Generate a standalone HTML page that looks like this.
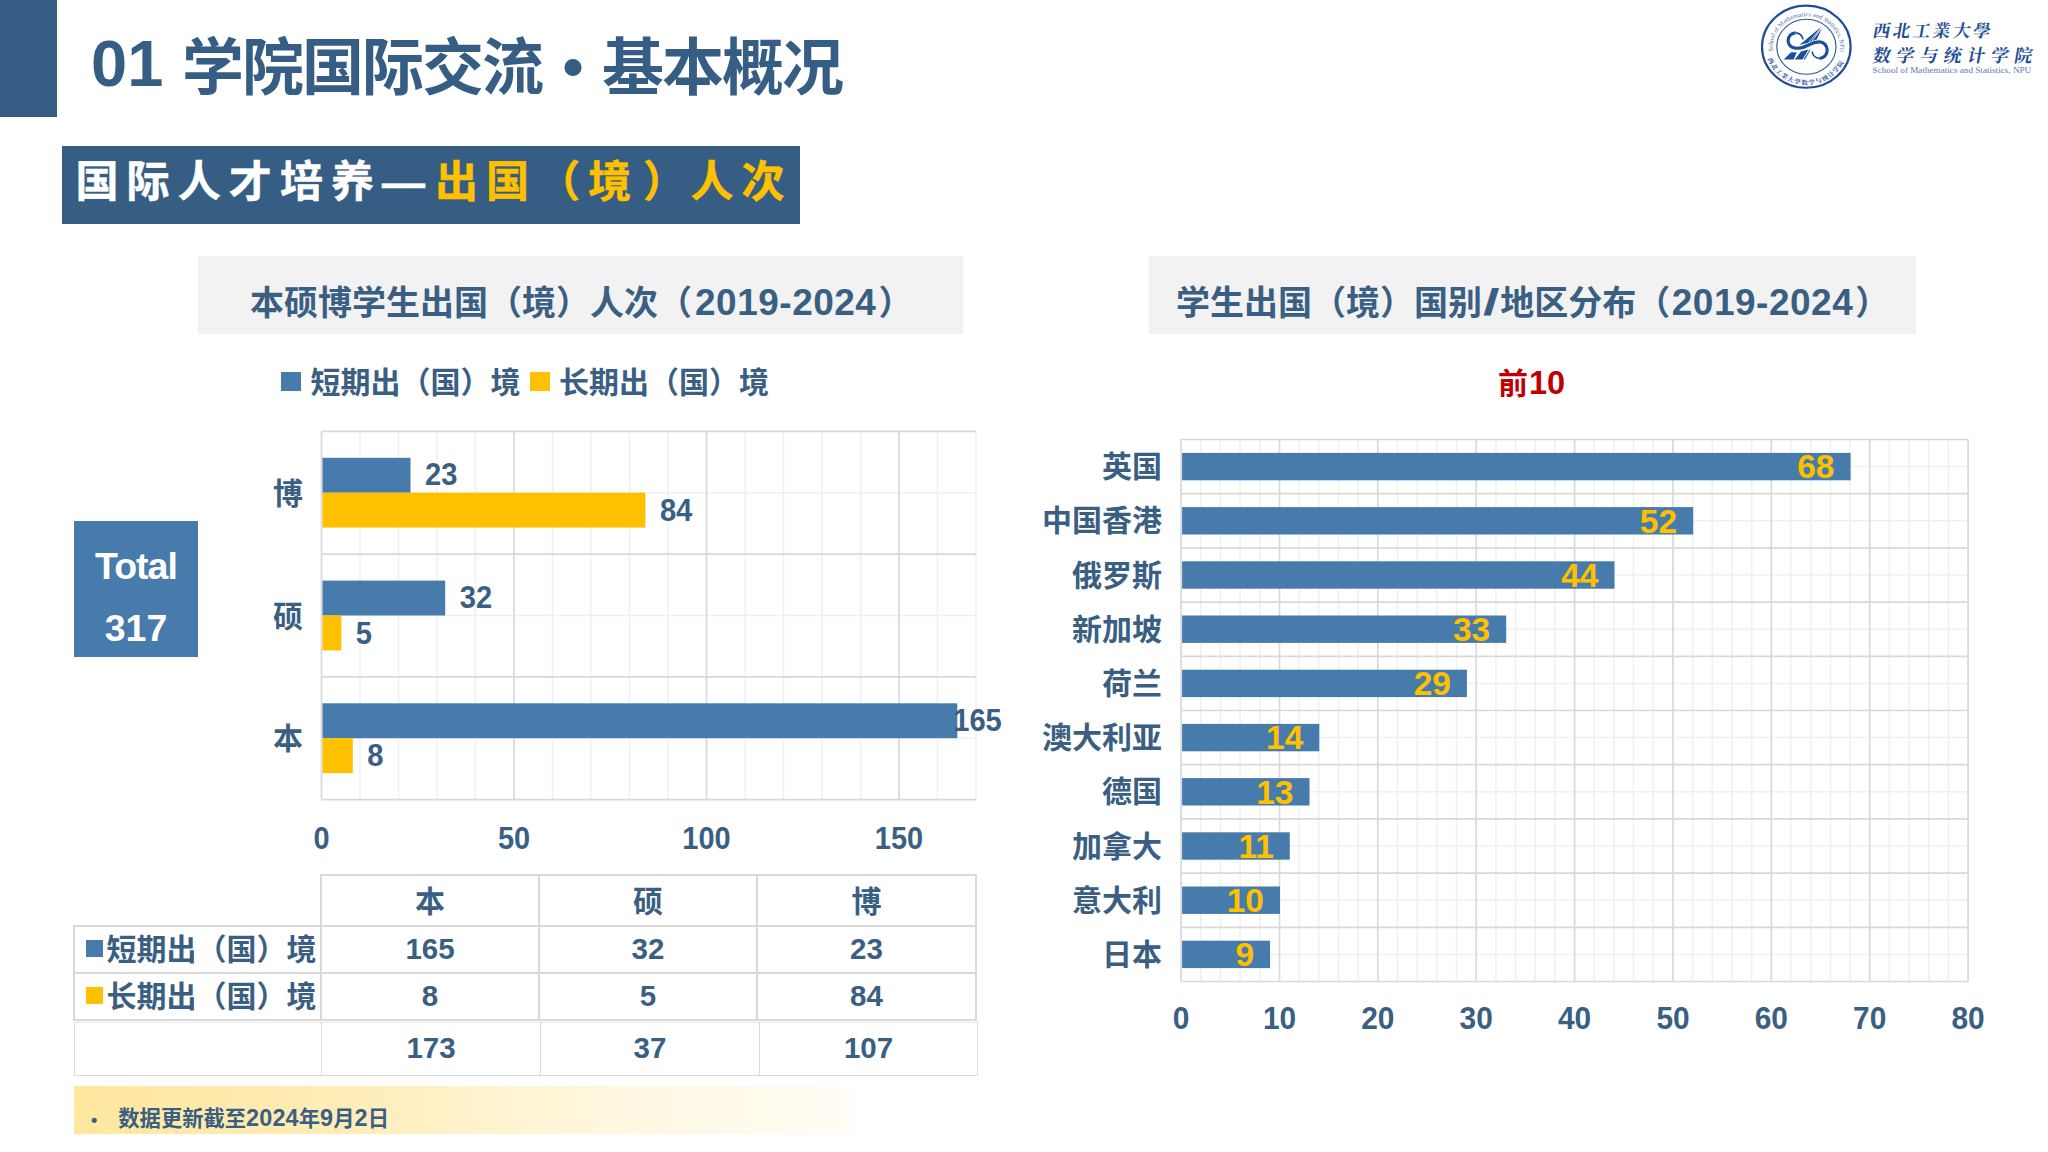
<!DOCTYPE html>
<html lang="zh-CN">
<head>
<meta charset="utf-8">
<title>01 学院国际交流·基本概况</title>
<style>
html,body{margin:0;padding:0;background:#fff;}
body{width:2048px;height:1152px;position:relative;overflow:hidden;font-family:"Liberation Sans","Noto Sans CJK SC",sans-serif;font-weight:bold;color:#3A5F82;}
.abs{position:absolute;}
.nowrap{white-space:nowrap;}
#sidebar{left:0;top:0;width:57.4px;height:117.4px;background:#365D83;}
#title{left:0;top:0;font-size:62px;line-height:76px;letter-spacing:-2px;color:#365D83;}
#title .n{left:91px;top:26px;font-size:65px;letter-spacing:0;}
#title .c1{left:182px;top:31px;}
#title .c2{left:602px;top:31px;}
#banner{left:61.7px;top:146.3px;width:738.3px;height:77.3px;background:#365D83;}
#banner .t{left:13.8px;top:7.7px;font-size:43px;line-height:56px;letter-spacing:8.1px;color:#fff;-webkit-text-stroke:0.5px;}
#banner .y{color:#FFC000;margin-left:1.8px;}
#title .dot{left:562.5px;top:28.5px;font-size:60px;letter-spacing:0;}
.ctitle{background:#F2F2F2;height:77.5px;top:256px;font-size:34px;color:#3A5F82;}
.ctitle .t{top:22px;line-height:50px;}
.ctitle .d{font-size:37px;letter-spacing:0.5px;margin-left:3px;}
.ctitle .sl{display:inline-block;transform:scaleX(1.6);margin:0 4px 0 4px;letter-spacing:0;}
.ctitle .p{margin-left:2px;}
#ct1{left:198px;width:765px;}
#ct2{left:1149px;width:767px;}
#legend{left:281px;top:362px;height:40px;font-size:30px;line-height:40px;}
.sq{display:inline-block;width:20px;height:19px;vertical-align:middle;position:relative;top:-3px;}
#total{left:74px;top:521px;width:124px;height:136px;background:#477BAB;color:#fff;text-align:center;font-size:37.5px;}
#top10{left:1431.5px;top:363px;width:200px;text-align:center;font-size:30px;line-height:40px;color:#C00000;}
svg{position:absolute;left:0;top:0;}
svg text{font-weight:bold;fill:#3A5F82;}
svg text.cjk{font-family:"Liberation Sans","Noto Sans CJK SC",sans-serif;}
svg text.num{font-family:"Liberation Sans",sans-serif;}
svg text.lg-en{font-family:"Liberation Serif",serif;}
svg text.lg-cn{font-family:"Liberation Serif","Noto Serif CJK SC",serif;font-weight:700;}
table{position:absolute;border-collapse:collapse;font-size:30px;}
td{border:2px solid #D9D9D9;text-align:center;padding:0;height:45px;line-height:44px;}
td.nb{border:none;}
#tb2 td{border:1px solid #DCDCDC;border-top-color:#E8E8E8;height:52px;}
td .u{position:relative;top:-0.3px;font-size:29.5px;}
#tb2 td .u{top:-1.5px;}
td .h{position:relative;top:1px;}
#foot{left:74px;top:1086px;width:777px;height:48px;background:linear-gradient(to right,#FFE79E 0%,#FFEDB8 35%,#FFF6DC 65%,#FFFDF6 100%);font-size:21.3px;line-height:64px;}
#foot .d{font-size:23.4px;letter-spacing:0.15px;}
</style>
</head>
<body>
<div id="sidebar" class="abs"></div>
<div id="title" class="abs nowrap"><span class="abs n">01</span><span class="abs c1">学院国际交流</span><span class="abs dot">•</span><span class="abs c2">基本概况</span></div>
<div id="banner" class="abs"><div class="t abs nowrap">国际人才培养—<span class="y">出国（境<span style="position:relative;left:3.5px">）</span>人次</span></div></div>

<div id="ct1" class="abs ctitle nowrap"><span class="abs t" style="left:52px">本硕博学生出国（境）人次（<span class="d">2019-2024</span><span class="p">）</span></span></div>
<div id="ct2" class="abs ctitle nowrap"><span class="abs t" style="left:27px">学生出国（境）国别<span class="d sl">/</span>地区分布（<span class="d" style="margin-left:1.5px">2019-2024</span><span class="p">）</span></span></div>

<div id="legend" class="abs nowrap"><span class="sq" style="background:#477BAB"></span><span style="margin-left:9.5px;position:relative;top:1px">短期出（国）境</span><span class="sq" style="background:#FFC000;margin-left:9px"></span><span style="margin-left:9.5px;position:relative;top:1px">长期出（国）境</span></div>
<div id="top10" class="abs nowrap">前<span style="font-size:32.5px;margin-left:1px">10</span></div>

<div id="total" class="abs"><div class="abs" style="left:0;width:124px;top:23px;line-height:44px;letter-spacing:-1px">Total</div><div class="abs" style="left:0;width:124px;top:84.5px;line-height:44px">317</div></div>

<svg width="2048" height="1152" viewBox="0 0 2048 1152">
<g id="leftchart">
<line x1="360.0" y1="431.3" x2="360.0" y2="799.6" stroke="#F0F0F0" stroke-width="1.5"/>
<line x1="398.5" y1="431.3" x2="398.5" y2="799.6" stroke="#F0F0F0" stroke-width="1.5"/>
<line x1="437.0" y1="431.3" x2="437.0" y2="799.6" stroke="#F0F0F0" stroke-width="1.5"/>
<line x1="475.5" y1="431.3" x2="475.5" y2="799.6" stroke="#F0F0F0" stroke-width="1.5"/>
<line x1="552.5" y1="431.3" x2="552.5" y2="799.6" stroke="#F0F0F0" stroke-width="1.5"/>
<line x1="591.0" y1="431.3" x2="591.0" y2="799.6" stroke="#F0F0F0" stroke-width="1.5"/>
<line x1="629.5" y1="431.3" x2="629.5" y2="799.6" stroke="#F0F0F0" stroke-width="1.5"/>
<line x1="668.0" y1="431.3" x2="668.0" y2="799.6" stroke="#F0F0F0" stroke-width="1.5"/>
<line x1="745.0" y1="431.3" x2="745.0" y2="799.6" stroke="#F0F0F0" stroke-width="1.5"/>
<line x1="783.5" y1="431.3" x2="783.5" y2="799.6" stroke="#F0F0F0" stroke-width="1.5"/>
<line x1="822.0" y1="431.3" x2="822.0" y2="799.6" stroke="#F0F0F0" stroke-width="1.5"/>
<line x1="860.5" y1="431.3" x2="860.5" y2="799.6" stroke="#F0F0F0" stroke-width="1.5"/>
<line x1="937.5" y1="431.3" x2="937.5" y2="799.6" stroke="#F0F0F0" stroke-width="1.5"/>
<line x1="976.0" y1="431.3" x2="976.0" y2="799.6" stroke="#F0F0F0" stroke-width="1.5"/>
<line x1="321.5" y1="492.7" x2="976.0" y2="492.7" stroke="#F0F0F0" stroke-width="1.5"/>
<line x1="321.5" y1="615.5" x2="976.0" y2="615.5" stroke="#F0F0F0" stroke-width="1.5"/>
<line x1="321.5" y1="738.2" x2="976.0" y2="738.2" stroke="#F0F0F0" stroke-width="1.5"/>
<line x1="321.5" y1="431.3" x2="321.5" y2="799.6" stroke="#D9D9D9" stroke-width="1.7"/>
<line x1="514.0" y1="431.3" x2="514.0" y2="799.6" stroke="#D9D9D9" stroke-width="1.7"/>
<line x1="706.5" y1="431.3" x2="706.5" y2="799.6" stroke="#D9D9D9" stroke-width="1.7"/>
<line x1="899.0" y1="431.3" x2="899.0" y2="799.6" stroke="#D9D9D9" stroke-width="1.7"/>
<line x1="321.5" y1="431.3" x2="976.0" y2="431.3" stroke="#D9D9D9" stroke-width="1.7"/>
<line x1="321.5" y1="554.1" x2="976.0" y2="554.1" stroke="#D9D9D9" stroke-width="1.7"/>
<line x1="321.5" y1="676.8" x2="976.0" y2="676.8" stroke="#D9D9D9" stroke-width="1.7"/>
<line x1="321.5" y1="799.6" x2="976.0" y2="799.6" stroke="#D9D9D9" stroke-width="1.7"/>
<rect x="322.5" y="457.8" width="88.0" height="34.9" fill="#477BAB"/>
<rect x="322.5" y="492.7" width="322.9" height="34.9" fill="#FFC000"/>
<text class="cjk" x="303" y="503.7" text-anchor="end" font-size="30">博</text>
<text class="num" transform="translate(425.1,485.4) scale(0.925,1)" text-anchor="start" font-size="31.5">23</text>
<text class="num" transform="translate(659.9,520.7) scale(0.925,1)" text-anchor="start" font-size="31.5">84</text>
<rect x="322.5" y="580.6" width="122.7" height="34.9" fill="#477BAB"/>
<rect x="322.5" y="615.5" width="18.8" height="34.9" fill="#FFC000"/>
<text class="cjk" x="303" y="626.5" text-anchor="end" font-size="30">硕</text>
<text class="num" transform="translate(459.7,608.2) scale(0.925,1)" text-anchor="start" font-size="31.5">32</text>
<text class="num" transform="translate(355.8,643.5) scale(0.925,1)" text-anchor="start" font-size="31.5">5</text>
<rect x="322.5" y="703.3" width="634.8" height="34.9" fill="#477BAB"/>
<rect x="322.5" y="738.2" width="30.3" height="34.9" fill="#FFC000"/>
<text class="cjk" x="303" y="749.2" text-anchor="end" font-size="30">本</text>
<text class="num" transform="translate(953.2,731.0) scale(0.925,1)" text-anchor="start" font-size="31.5">165</text>
<text class="num" transform="translate(367.3,766.3) scale(0.925,1)" text-anchor="start" font-size="31.5">8</text>
<text class="num" transform="translate(321.5,848.6) scale(0.925,1)" text-anchor="middle" font-size="31.3">0</text>
<text class="num" transform="translate(514.0,848.6) scale(0.925,1)" text-anchor="middle" font-size="31.3">50</text>
<text class="num" transform="translate(706.5,848.6) scale(0.925,1)" text-anchor="middle" font-size="31.3">100</text>
<text class="num" transform="translate(899.0,848.6) scale(0.925,1)" text-anchor="middle" font-size="31.3">150</text>
</g>
<g id="rightchart">
<line x1="1200.8" y1="439.5" x2="1200.8" y2="981.5" stroke="#F0F0F0" stroke-width="1.5"/>
<line x1="1220.4" y1="439.5" x2="1220.4" y2="981.5" stroke="#F0F0F0" stroke-width="1.5"/>
<line x1="1240.1" y1="439.5" x2="1240.1" y2="981.5" stroke="#F0F0F0" stroke-width="1.5"/>
<line x1="1259.8" y1="439.5" x2="1259.8" y2="981.5" stroke="#F0F0F0" stroke-width="1.5"/>
<line x1="1299.1" y1="439.5" x2="1299.1" y2="981.5" stroke="#F0F0F0" stroke-width="1.5"/>
<line x1="1318.8" y1="439.5" x2="1318.8" y2="981.5" stroke="#F0F0F0" stroke-width="1.5"/>
<line x1="1338.5" y1="439.5" x2="1338.5" y2="981.5" stroke="#F0F0F0" stroke-width="1.5"/>
<line x1="1358.2" y1="439.5" x2="1358.2" y2="981.5" stroke="#F0F0F0" stroke-width="1.5"/>
<line x1="1397.5" y1="439.5" x2="1397.5" y2="981.5" stroke="#F0F0F0" stroke-width="1.5"/>
<line x1="1417.2" y1="439.5" x2="1417.2" y2="981.5" stroke="#F0F0F0" stroke-width="1.5"/>
<line x1="1436.9" y1="439.5" x2="1436.9" y2="981.5" stroke="#F0F0F0" stroke-width="1.5"/>
<line x1="1456.5" y1="439.5" x2="1456.5" y2="981.5" stroke="#F0F0F0" stroke-width="1.5"/>
<line x1="1495.9" y1="439.5" x2="1495.9" y2="981.5" stroke="#F0F0F0" stroke-width="1.5"/>
<line x1="1515.6" y1="439.5" x2="1515.6" y2="981.5" stroke="#F0F0F0" stroke-width="1.5"/>
<line x1="1535.2" y1="439.5" x2="1535.2" y2="981.5" stroke="#F0F0F0" stroke-width="1.5"/>
<line x1="1554.9" y1="439.5" x2="1554.9" y2="981.5" stroke="#F0F0F0" stroke-width="1.5"/>
<line x1="1594.3" y1="439.5" x2="1594.3" y2="981.5" stroke="#F0F0F0" stroke-width="1.5"/>
<line x1="1613.9" y1="439.5" x2="1613.9" y2="981.5" stroke="#F0F0F0" stroke-width="1.5"/>
<line x1="1633.6" y1="439.5" x2="1633.6" y2="981.5" stroke="#F0F0F0" stroke-width="1.5"/>
<line x1="1653.3" y1="439.5" x2="1653.3" y2="981.5" stroke="#F0F0F0" stroke-width="1.5"/>
<line x1="1692.6" y1="439.5" x2="1692.6" y2="981.5" stroke="#F0F0F0" stroke-width="1.5"/>
<line x1="1712.3" y1="439.5" x2="1712.3" y2="981.5" stroke="#F0F0F0" stroke-width="1.5"/>
<line x1="1732.0" y1="439.5" x2="1732.0" y2="981.5" stroke="#F0F0F0" stroke-width="1.5"/>
<line x1="1751.7" y1="439.5" x2="1751.7" y2="981.5" stroke="#F0F0F0" stroke-width="1.5"/>
<line x1="1791.0" y1="439.5" x2="1791.0" y2="981.5" stroke="#F0F0F0" stroke-width="1.5"/>
<line x1="1810.7" y1="439.5" x2="1810.7" y2="981.5" stroke="#F0F0F0" stroke-width="1.5"/>
<line x1="1830.4" y1="439.5" x2="1830.4" y2="981.5" stroke="#F0F0F0" stroke-width="1.5"/>
<line x1="1850.0" y1="439.5" x2="1850.0" y2="981.5" stroke="#F0F0F0" stroke-width="1.5"/>
<line x1="1889.4" y1="439.5" x2="1889.4" y2="981.5" stroke="#F0F0F0" stroke-width="1.5"/>
<line x1="1909.1" y1="439.5" x2="1909.1" y2="981.5" stroke="#F0F0F0" stroke-width="1.5"/>
<line x1="1928.8" y1="439.5" x2="1928.8" y2="981.5" stroke="#F0F0F0" stroke-width="1.5"/>
<line x1="1948.4" y1="439.5" x2="1948.4" y2="981.5" stroke="#F0F0F0" stroke-width="1.5"/>
<line x1="1181.1" y1="466.6" x2="1968.1" y2="466.6" stroke="#F0F0F0" stroke-width="1.5"/>
<line x1="1181.1" y1="520.8" x2="1968.1" y2="520.8" stroke="#F0F0F0" stroke-width="1.5"/>
<line x1="1181.1" y1="575.0" x2="1968.1" y2="575.0" stroke="#F0F0F0" stroke-width="1.5"/>
<line x1="1181.1" y1="629.2" x2="1968.1" y2="629.2" stroke="#F0F0F0" stroke-width="1.5"/>
<line x1="1181.1" y1="683.4" x2="1968.1" y2="683.4" stroke="#F0F0F0" stroke-width="1.5"/>
<line x1="1181.1" y1="737.6" x2="1968.1" y2="737.6" stroke="#F0F0F0" stroke-width="1.5"/>
<line x1="1181.1" y1="791.8" x2="1968.1" y2="791.8" stroke="#F0F0F0" stroke-width="1.5"/>
<line x1="1181.1" y1="846.0" x2="1968.1" y2="846.0" stroke="#F0F0F0" stroke-width="1.5"/>
<line x1="1181.1" y1="900.2" x2="1968.1" y2="900.2" stroke="#F0F0F0" stroke-width="1.5"/>
<line x1="1181.1" y1="954.4" x2="1968.1" y2="954.4" stroke="#F0F0F0" stroke-width="1.5"/>
<line x1="1181.1" y1="439.5" x2="1181.1" y2="981.5" stroke="#D9D9D9" stroke-width="1.7"/>
<line x1="1279.5" y1="439.5" x2="1279.5" y2="981.5" stroke="#D9D9D9" stroke-width="1.7"/>
<line x1="1377.8" y1="439.5" x2="1377.8" y2="981.5" stroke="#D9D9D9" stroke-width="1.7"/>
<line x1="1476.2" y1="439.5" x2="1476.2" y2="981.5" stroke="#D9D9D9" stroke-width="1.7"/>
<line x1="1574.6" y1="439.5" x2="1574.6" y2="981.5" stroke="#D9D9D9" stroke-width="1.7"/>
<line x1="1673.0" y1="439.5" x2="1673.0" y2="981.5" stroke="#D9D9D9" stroke-width="1.7"/>
<line x1="1771.3" y1="439.5" x2="1771.3" y2="981.5" stroke="#D9D9D9" stroke-width="1.7"/>
<line x1="1869.7" y1="439.5" x2="1869.7" y2="981.5" stroke="#D9D9D9" stroke-width="1.7"/>
<line x1="1968.1" y1="439.5" x2="1968.1" y2="981.5" stroke="#D9D9D9" stroke-width="1.7"/>
<line x1="1181.1" y1="439.5" x2="1968.1" y2="439.5" stroke="#D9D9D9" stroke-width="1.7"/>
<line x1="1181.1" y1="493.7" x2="1968.1" y2="493.7" stroke="#D9D9D9" stroke-width="1.7"/>
<line x1="1181.1" y1="547.9" x2="1968.1" y2="547.9" stroke="#D9D9D9" stroke-width="1.7"/>
<line x1="1181.1" y1="602.1" x2="1968.1" y2="602.1" stroke="#D9D9D9" stroke-width="1.7"/>
<line x1="1181.1" y1="656.3" x2="1968.1" y2="656.3" stroke="#D9D9D9" stroke-width="1.7"/>
<line x1="1181.1" y1="710.5" x2="1968.1" y2="710.5" stroke="#D9D9D9" stroke-width="1.7"/>
<line x1="1181.1" y1="764.7" x2="1968.1" y2="764.7" stroke="#D9D9D9" stroke-width="1.7"/>
<line x1="1181.1" y1="818.9" x2="1968.1" y2="818.9" stroke="#D9D9D9" stroke-width="1.7"/>
<line x1="1181.1" y1="873.1" x2="1968.1" y2="873.1" stroke="#D9D9D9" stroke-width="1.7"/>
<line x1="1181.1" y1="927.3" x2="1968.1" y2="927.3" stroke="#D9D9D9" stroke-width="1.7"/>
<line x1="1181.1" y1="981.5" x2="1968.1" y2="981.5" stroke="#D9D9D9" stroke-width="1.7"/>
<rect x="1182.1" y="452.9" width="668.5" height="27.4" fill="#477BAB"/>
<text class="cjk" x="1162" y="477.1" text-anchor="end" font-size="30">英国</text>
<text class="num" transform="translate(1834.5,478.4) scale(1.0,1)" text-anchor="end" font-size="33.5" style="fill:#FFC000">68</text>
<rect x="1182.1" y="507.1" width="511.1" height="27.4" fill="#477BAB"/>
<text class="cjk" x="1162" y="531.3" text-anchor="end" font-size="30">中国香港</text>
<text class="num" transform="translate(1677.1,532.6) scale(1.0,1)" text-anchor="end" font-size="33.5" style="fill:#FFC000">52</text>
<rect x="1182.1" y="561.3" width="432.4" height="27.4" fill="#477BAB"/>
<text class="cjk" x="1162" y="585.5" text-anchor="end" font-size="30">俄罗斯</text>
<text class="num" transform="translate(1598.4,586.8) scale(1.0,1)" text-anchor="end" font-size="33.5" style="fill:#FFC000">44</text>
<rect x="1182.1" y="615.5" width="324.1" height="27.4" fill="#477BAB"/>
<text class="cjk" x="1162" y="639.7" text-anchor="end" font-size="30">新加坡</text>
<text class="num" transform="translate(1490.2,641.0) scale(1.0,1)" text-anchor="end" font-size="33.5" style="fill:#FFC000">33</text>
<rect x="1182.1" y="669.7" width="284.8" height="27.4" fill="#477BAB"/>
<text class="cjk" x="1162" y="693.9" text-anchor="end" font-size="30">荷兰</text>
<text class="num" transform="translate(1450.9,695.2) scale(1.0,1)" text-anchor="end" font-size="33.5" style="fill:#FFC000">29</text>
<rect x="1182.1" y="723.9" width="137.2" height="27.4" fill="#477BAB"/>
<text class="cjk" x="1162" y="748.1" text-anchor="end" font-size="30">澳大利亚</text>
<text class="num" transform="translate(1303.3,749.4) scale(1.0,1)" text-anchor="end" font-size="33.5" style="fill:#FFC000">14</text>
<rect x="1182.1" y="778.1" width="127.4" height="27.4" fill="#477BAB"/>
<text class="cjk" x="1162" y="802.3" text-anchor="end" font-size="30">德国</text>
<text class="num" transform="translate(1293.5,803.6) scale(1.0,1)" text-anchor="end" font-size="33.5" style="fill:#FFC000">13</text>
<rect x="1182.1" y="832.3" width="107.7" height="27.4" fill="#477BAB"/>
<text class="cjk" x="1162" y="856.5" text-anchor="end" font-size="30">加拿大</text>
<text class="num" transform="translate(1273.8,857.8) scale(1.0,1)" text-anchor="end" font-size="33.5" style="fill:#FFC000">11</text>
<rect x="1182.1" y="886.5" width="97.9" height="27.4" fill="#477BAB"/>
<text class="cjk" x="1162" y="910.7" text-anchor="end" font-size="30">意大利</text>
<text class="num" transform="translate(1264.0,912.0) scale(1.0,1)" text-anchor="end" font-size="33.5" style="fill:#FFC000">10</text>
<rect x="1182.1" y="940.7" width="88.0" height="27.4" fill="#477BAB"/>
<text class="cjk" x="1162" y="964.9" text-anchor="end" font-size="30">日本</text>
<text class="num" transform="translate(1254.1,966.2) scale(1.0,1)" text-anchor="end" font-size="33.5" style="fill:#FFC000">9</text>
<text class="num" transform="translate(1181.1,1029.2) scale(0.955,1)" text-anchor="middle" font-size="31.3">0</text>
<text class="num" transform="translate(1279.5,1029.2) scale(0.955,1)" text-anchor="middle" font-size="31.3">10</text>
<text class="num" transform="translate(1377.8,1029.2) scale(0.955,1)" text-anchor="middle" font-size="31.3">20</text>
<text class="num" transform="translate(1476.2,1029.2) scale(0.955,1)" text-anchor="middle" font-size="31.3">30</text>
<text class="num" transform="translate(1574.6,1029.2) scale(0.955,1)" text-anchor="middle" font-size="31.3">40</text>
<text class="num" transform="translate(1673.0,1029.2) scale(0.955,1)" text-anchor="middle" font-size="31.3">50</text>
<text class="num" transform="translate(1771.3,1029.2) scale(0.955,1)" text-anchor="middle" font-size="31.3">60</text>
<text class="num" transform="translate(1869.7,1029.2) scale(0.955,1)" text-anchor="middle" font-size="31.3">70</text>
<text class="num" transform="translate(1968.1,1029.2) scale(0.955,1)" text-anchor="middle" font-size="31.3">80</text>
</g>
<g id="logo">
<g transform="translate(0,46.7) scale(1,0.927) translate(0,-46.7)">
<circle cx="1806.3" cy="46.7" r="44.3" fill="none" stroke="#1F4E96" stroke-width="2.2"/>
<circle cx="1806.4" cy="46.7" r="29.6" fill="none" stroke="#2A5599" stroke-width="1.1"/>
<path id="arcTop" d="M 1773.2,52.5 A 33.6,33.6 0 1 1 1839.6,52.5" fill="none"/>
<path id="arcBot" d="M 1767.6,59.6 A 40.8,40.8 0 0 0 1845.2,59.6" fill="none"/>
<text class="lg-en" font-size="6.6" style="fill:#4A69A3;font-weight:normal"><textPath href="#arcTop" startOffset="1">School of Mathematics and Statistics, NPU</textPath></text>
<text class="lg-cn" font-size="6.6" style="fill:#1F4E96;font-weight:700" letter-spacing="0.95"><textPath href="#arcBot" startOffset="0.5">西北工業大學数学与统计学院</textPath></text>
</g>
<polygon points="1783.73,59.62 1793.66,59.62 1796.72,52.56 1790.99,52.18" fill="#1A4F9C"/>
<polygon points="1794.81,59.62 1802.45,59.62 1808.56,49.50 1800.92,51.60" fill="#1A4F9C"/>
<polygon points="1803.52,59.62 1805.04,59.62 1810.70,49.35 1809.55,49.65" fill="#1A4F9C"/>
<polygon points="1799.39,44.92 1808.18,42.63 1820.97,27.04" fill="#1A4F9C"/>
<polygon points="1809.40,42.24 1811.46,41.56 1821.32,27.27" fill="#1A4F9C"/>
<polygon points="1812.57,41.02 1816.77,39.49 1822.00,28.11" fill="#1A4F9C"/>
<path d="M 1795.6,32.8 A 7.5,7.7 0 0 0 1795.6,48.2 C 1800.5,48.7 1804.2,47.0 1808.0,45.2 C 1812.0,43.3 1815.5,41.9 1819.6,41.9 A 7.6,8.2 0 0 1 1819.6,58.3" fill="none" stroke="#1A4F9C" stroke-width="3.2"/>
<path d="M 1795.6,32.8 A 7.5,7.7 0 0 1 1803.0,39.4" fill="none" stroke="#1A4F9C" stroke-width="1.7"/>
<path d="M 1819.6,58.3 A 7.6,8.2 0 0 1 1812.1,51.6" fill="none" stroke="#1A4F9C" stroke-width="1.7"/>
</g>
<g id="logotext">
<text class="lg-cn" x="1872" y="37.2" font-size="17.5" letter-spacing="2.55" transform="translate(1872,37.2) skewX(-10) translate(-1872,-37.2)" style="fill:#1F4E96">西北工業大學</text>
<text class="lg-cn" x="1872" y="61.8" font-size="18" letter-spacing="5.6" transform="translate(1872,61.8) skewX(-10) translate(-1872,-61.8)" style="fill:#1F4E96">数学与统计学院</text>
<text class="lg-en" x="1872.6" y="73.2" font-size="9" style="fill:#5D79AB;font-weight:normal" textLength="158.6" lengthAdjust="spacingAndGlyphs">School of Mathematics and Statistics, NPU</text>
</g>
</svg>

<table id="tb1" style="left:73px;top:874px;">
<colgroup><col style="width:247px"><col style="width:218px"><col style="width:218px"><col style="width:219px"></colgroup>
<tr><td class="nb" style="height:49px"></td><td style="height:49px"><span class="h">本</span></td><td style="height:49px"><span class="h">硕</span></td><td style="height:49px"><span class="h">博</span></td></tr>
<tr><td style="text-align:left"><span class="sq" style="background:#477BAB;margin-left:11px;width:17px;height:17px"></span><span style="margin-left:3.5px;position:relative;top:0.8px">短期出（国）境</span></td><td><span class="u">165</span></td><td><span class="u">32</span></td><td><span class="u">23</span></td></tr>
<tr><td style="text-align:left"><span class="sq" style="background:#FFC000;margin-left:11px;width:17px;height:17px"></span><span style="margin-left:3.5px;position:relative;top:0.8px">长期出（国）境</span></td><td><span class="u">8</span></td><td><span class="u">5</span></td><td><span class="u">84</span></td></tr>
</table>
<table id="tb2" style="left:74px;top:1022px;">
<colgroup><col style="width:247px"><col style="width:219px"><col style="width:219px"><col style="width:218px"></colgroup>
<tr><td></td><td><span class="u">173</span></td><td><span class="u">37</span></td><td><span class="u">107</span></td></tr>
</table>

<div id="foot" class="abs nowrap"><span style="margin-left:17px;font-size:18px">•</span><span style="margin-left:21px">数据更新截至<span class="d">2024</span>年<span class="d">9</span>月<span class="d">2</span>日</span></div>

</body>
</html>
